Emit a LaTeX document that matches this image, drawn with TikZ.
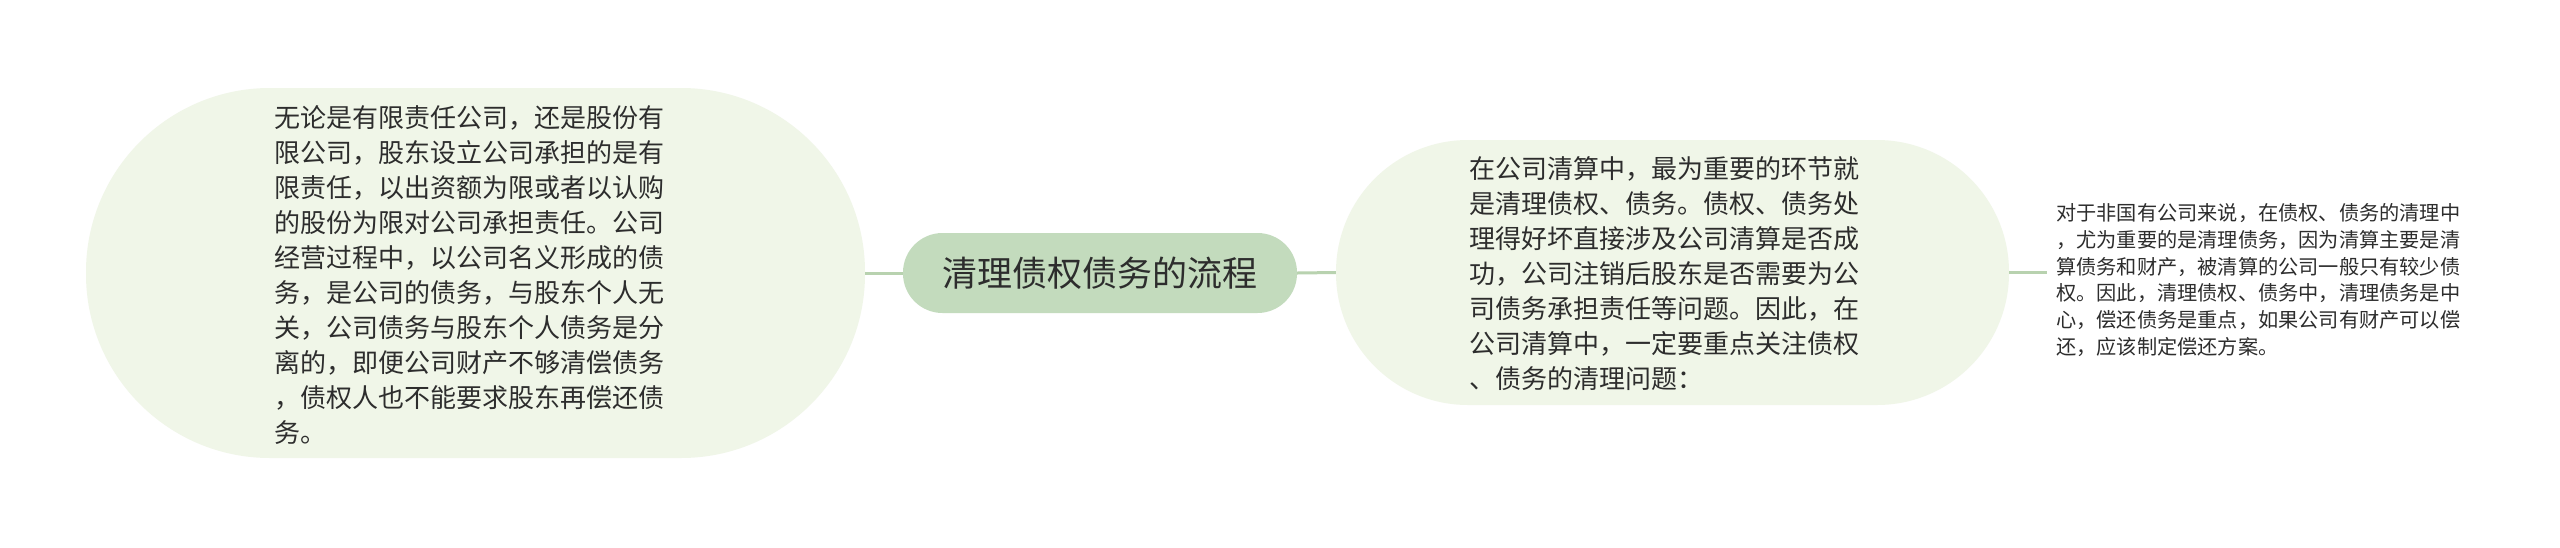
\documentclass[tikz,border=0pt]{standalone}
\usepackage{fontspec}
\setmainfont{Noto Sans CJK SC}
\newfontfamily\cjk{Noto Sans CJK SC}
\definecolor{bubblefill}{RGB}{240,246,232}
\definecolor{rootfill}{RGB}{195,219,189}
\definecolor{linkcol}{RGB}{184,210,175}
\definecolor{txtcol}{RGB}{45,45,45}
\tikzset{
  bubble/.style={fill=bubblefill, draw=none, inner sep=0pt},
  rootbox/.style={fill=rootfill, draw=none, inner sep=0pt, minimum width=394pt, minimum height=80pt, rounded corners=39.5pt, text=txtcol, font=\cjk\fontsize{35}{40}\selectfont},
  bodytext/.style={inner sep=0pt, anchor=west, align=left, text=txtcol, font=\cjk\fontsize{26}{35}\selectfont},
  smalltext/.style={inner sep=0pt, align=left, text=txtcol, font=\cjk\fontsize{20.2}{26.9}\selectfont},
  link/.style={draw=linkcol, line width=3pt}
}
\begin{document}
\begin{tikzpicture}[x=1pt,y=-1pt]
\useasboundingbox (0,0) rectangle (2560,547);
\fill[white] (0,0) rectangle (2560,547);
% shapes
\node[bubble, minimum width=779pt, minimum height=370pt, rounded corners=184pt] (L) at (475.5,273) {};
\node[rootbox] (C) at (1100,273) {清理债权债务的流程};
\node[bubble, minimum width=673pt, minimum height=265pt, rounded corners=132pt] (R) at (1672.5,272.5) {};
% texts
\node[bodytext] (Lt) at (274,275) {无论是有限责任公司，还是股份有\\限公司，股东设立公司承担的是有\\限责任，以出资额为限或者以认购\\的股份为限对公司承担责任。公司\\经营过程中，以公司名义形成的债\\务，是公司的债务，与股东个人无\\关，公司债务与股东个人债务是分\\离的，即便公司财产不够清偿债务\\，债权人也不能要求股东再偿还债\\务。};
\node[bodytext] (Rt) at (1469,274) {在公司清算中，最为重要的环节就\\是清理债权、债务。债权、债务处\\理得好坏直接涉及公司清算是否成\\功，公司注销后股东是否需要为公\\司债务承担责任等问题。因此，在\\公司清算中，一定要重点关注债权\\、债务的清理问题：};
\node[smalltext, anchor=west, inner xsep=9pt] (F) at (2047,280) {对于非国有公司来说，在债权、债务的清理中\\，尤为重要的是清理债务，因为清算主要是清\\算债务和财产，被清算的公司一般只有较少债\\权。因此，清理债权、债务中，清理债务是中\\心，偿还债务是重点，如果公司有财产可以偿\\还，应该制定偿还方案。};
% connectors
\draw[link] (L.east) -- (C.west);
\draw[link] (C.east) -- (R.west);
\draw[link] (R.east) -- (R.east -| F.west);
\end{tikzpicture}
\end{document}
